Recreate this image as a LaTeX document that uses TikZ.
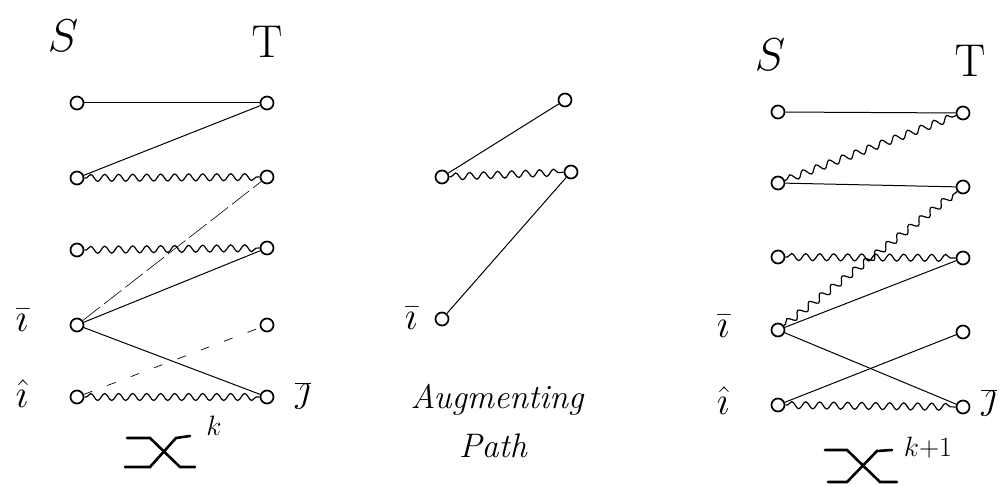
\RequirePackage{fix-cm}
\documentclass[tikz,border=0pt]{standalone}
\usepackage{tikz}
\usetikzlibrary{decorations.pathmorphing}
\newcommand{\labelfont}{\fontsize{40}{44}\selectfont}
\newcommand{\sidefont}{\fontsize{46}{50}\selectfont}
\tikzset{
  vtx/.style={draw,circle,line width=1.7pt,minimum size=13pt,inner sep=0pt},
  matched/.style={line width=1.2pt,decorate,decoration={snake,amplitude=3.5pt,segment length=14pt,pre length=2pt,post length=2pt}},
  free/.style={line width=1pt},
  faint/.style={line width=0.6pt,dash pattern=on 22pt off 5pt},
  sparse/.style={line width=0.7pt,dash pattern=on 9pt off 16pt},
  lbl/.style={font=\labelfont,inner sep=1pt},
  side/.style={font=\sidefont,inner sep=1pt},
  chibar/.style={line width=2.6pt,line cap=round}
}
\begin{document}
\begin{tikzpicture}[x=1pt,y=-1pt]
  \useasboundingbox (0,0) rectangle (1002,487);
  % left matching
  \node[side] (lS) at (63,36) {$S$};
  \node[side] (lT) at (267,42) {$\mathrm{T}$};
  \foreach \r/\ys/\yt in {1/103/103,2/178/177,3/250/248,4/325/325,5/397/397}{
    \node[vtx] (ls\r) at (77,\ys) {};
    \node[vtx] (lt\r) at (267,\yt) {};
  }
  \node[lbl] (libar) at (22,320) {$\bar{\imath}$};
  \node[lbl] (lihat) at (22,394) {$\hat{\imath}$};
  \node[lbl] (ljbar) at (303,396) {$\overline{\jmath}$};
  \draw[free] (ls1) -- (lt1);
  \draw[free] (ls2) -- (lt1);
  \draw[matched] (ls2) -- (lt2);
  \draw[matched] (ls3) -- (lt3);
  \draw[faint] (ls4) -- (lt2);
  \draw[free] (ls4) -- (lt3);
  \draw[free] (ls4) -- (lt5);
  \draw[sparse] (ls5) -- (lt4);
  \draw[matched] (ls5) -- (lt5);
  % chi^k
  \draw[chibar] (127,438) -- (150,438) -- (180,467) -- (195,467);
  \draw[chibar] (125,467) -- (150,467) -- (176,438) -- (190,436);
  \node[font=\fontsize{28}{30}\selectfont,inner sep=1pt] (lk) at (214,426) {$k$};
  % augmenting path
  \node[vtx] (ma) at (565,100) {};
  \node[vtx] (mb) at (442,177) {};
  \node[vtx] (mc) at (571,172) {};
  \node[vtx] (md) at (442,319) {};
  \node[lbl] (mibar) at (411,318) {$\bar{\imath}$};
  \draw[free] (ma) -- (mb);
  \draw[matched] (mb) -- (mc);
  \draw[free] (mc) -- (md);
  \node[font=\fontsize{34}{38}\itshape] (aug) at (497,400) {Augmenting};
  \node[font=\fontsize{34}{38}\itshape] (path) at (493,446) {Path};
  % right matching
  \node[side] (rS) at (770,55) {$S$};
  \node[side] (rT) at (970,61) {$\mathrm{T}$};
  \foreach \r/\ys/\yt in {1/112/113,2/183/187,3/257/258,4/330/332,5/405/407}{
    \node[vtx] (rs\r) at (778,\ys) {};
    \node[vtx] (rt\r) at (963,\yt) {};
  }
  \node[lbl] (ribar) at (723,326) {$\bar{\imath}$};
  \node[lbl] (rihat) at (723,401) {$\hat{\imath}$};
  \node[lbl] (rjbar) at (989,403) {$\overline{\jmath}$};
  \draw[free] (rs1) -- (rt1);
  \draw[matched] (rs2) -- (rt1);
  \draw[free] (rs2) -- (rt2);
  \draw[matched] (rs3) -- (rt3);
  \draw[matched] (rs4) -- (rt2);
  \draw[free] (rs4) -- (rt3);
  \draw[free] (rs4) -- (rt5);
  \draw[free] (rs5) -- (rt4);
  \draw[matched] (rs5) -- (rt5);
  % chi^{k+1}
  \draw[chibar] (825,450) -- (847,450) -- (880,482) -- (897,482);
  \draw[chibar] (828,482) -- (847,482) -- (877,451) -- (892,450);
  \node[font=\fontsize{28}{30}\selectfont,inner sep=1pt] (rk) at (928,448) {$k{+}1$};
\end{tikzpicture}
\end{document}
